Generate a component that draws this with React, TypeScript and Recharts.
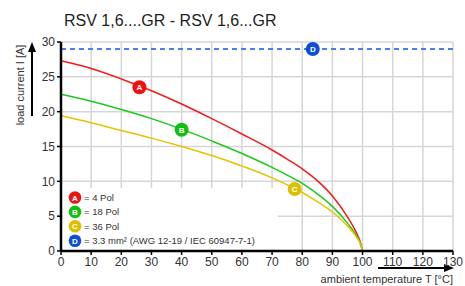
import React from 'react';
import {
  LineChart, Line, XAxis, YAxis, CartesianGrid, ReferenceLine, ReferenceDot, Customized,
} from 'recharts';

// ambient temperature [°C]
const temps = [0, 10, 20, 30, 40, 50, 60, 70, 75, 80, 85, 90, 95, 98, 99, 100];
// load current [A]
const pol4 = [27.3, 26.2, 24.7, 23.0, 21.1, 19.0, 16.8, 14.5, 13.2, 11.8, 10.1, 7.9, 4.9, 2.6, 1.6, 0];
const pol18 = [22.5, 21.5, 20.3, 19.0, 17.5, 15.8, 14.0, 12.0, 10.9, 9.7, 8.2, 6.4, 4.0, 2.2, 1.4, 0];
const pol36 = [19.4, 18.4, 17.3, 16.2, 15.0, 13.7, 12.2, 10.5, 9.5, 8.4, 7.1, 5.6, 3.6, 2.0, 1.3, 0];
const wireLimit = 29;

const xTicks = [0, 10, 20, 30, 40, 50, 60, 70, 80, 90, 100, 110, 120, 130];
const yTicks = [0, 5, 10, 15, 20, 25, 30];

const markers = [
  { id: 'A', t: 26, i: 23.5, color: '#ee1111' },
  { id: 'B', t: 40, i: 17.4, color: '#11c011' },
  { id: 'C', t: 77.5, i: 8.9, color: '#dcc000' },
  { id: 'D', t: 83.5, i: 29, color: '#0b4fd8' },
];

const legendItems = [
  { id: 'A', text: '= 4 Pol', color: '#ee1111' },
  { id: 'B', text: '= 18 Pol', color: '#11c011' },
  { id: 'C', text: '= 36 Pol', color: '#dcc000' },
  { id: 'D', text: '= 3.3 mm² (AWG 12-19 / IEC 60947-7-1)', color: '#0b4fd8' },
];

const data = temps.map((t, k) => ({ t, a: pol4[k], b: pol18[k], c: pol36[k] }));

const font = 'Liberation Sans, Arial, sans-serif';

function Decorations() {
  return (
    <g fontFamily={font}>
      <text x={64} y={26} fontSize={16} fill="#222">RSV 1,6....GR - RSV 1,6...GR</text>
      <text x={24} y={85} fontSize={11} fill="#333" textAnchor="middle" transform="rotate(-90 24 85)">
        load current I [A]
      </text>
      <line x1={32} y1={116} x2={32} y2={50} stroke="#000" strokeWidth={2} />
      <polygon points="32,42 28,52 36,52" fill="#000" />
      <line x1={378} y1={268} x2={445} y2={268} stroke="#000" strokeWidth={2} />
      <polygon points="454,268 444,264 444,272" fill="#000" />
      <text x={453} y={283} fontSize={11} fill="#333" textAnchor="end">ambient temperature T [°C]</text>
      <rect x={63} y={188} width={215} height={61.5} fill="#fff" />
      {legendItems.map((it, k) => (
        <g key={it.id}>
          <circle cx={75} cy={197.5 + k * 14.4} r={6.3} fill={it.color} />
          <text x={75} y={200.5 + k * 14.4} fontSize={8} fontWeight="bold" fill="#fff" textAnchor="middle">{it.id}</text>
          <text x={84} y={201 + k * 14.4} fontSize={9.5} fill="#333">{it.text}</text>
        </g>
      ))}
    </g>
  );
}

export default function App() {
  return (
    <div style={{ position: 'absolute', left: 0, top: 0, background: '#fff' }}>
      <LineChart width={465} height={286} data={data} margin={{ top: 42, right: 12, bottom: 15, left: 21 }}>
        <CartesianGrid stroke="#d6d6d6" strokeWidth={1.5} />
        <Customized component={Decorations} />
        <XAxis
          dataKey="t"
          type="number"
          domain={[0, 130]}
          ticks={xTicks}
          interval={0}
          height={20}
          axisLine={{ stroke: '#000', strokeWidth: 2.5 }}
          tickLine={{ stroke: '#000', strokeWidth: 1.5 }}
          tickSize={4}
          tick={{ fill: '#333', fontSize: 12, fontFamily: font }}
        />
        <YAxis
          type="number"
          domain={[0, 30]}
          ticks={yTicks}
          interval={0}
          width={40}
          axisLine={{ stroke: '#000', strokeWidth: 2.5 }}
          tickLine={{ stroke: '#000', strokeWidth: 1.5 }}
          tickSize={4}
          tick={{ fill: '#333', fontSize: 12, fontFamily: font }}
        />
        <ReferenceLine y={wireLimit} stroke="#4a7fe8" strokeWidth={2} strokeDasharray="5 4" />
        <Line type="monotone" dataKey="a" stroke="#f01c1c" strokeWidth={1.5} dot={false} isAnimationActive={false} />
        <Line type="monotone" dataKey="b" stroke="#1ec81e" strokeWidth={1.5} dot={false} isAnimationActive={false} />
        <Line type="monotone" dataKey="c" stroke="#e6c300" strokeWidth={1.5} dot={false} isAnimationActive={false} />
        {markers.map((m) => (
          <ReferenceDot
            key={m.id}
            x={m.t}
            y={m.i}
            r={7}
            fill={m.color}
            stroke="none"
            label={{ value: m.id, position: 'center', fill: '#fff', fontSize: 8, fontWeight: 'bold', fontFamily: font }}
          />
        ))}
      </LineChart>
    </div>
  );
}
